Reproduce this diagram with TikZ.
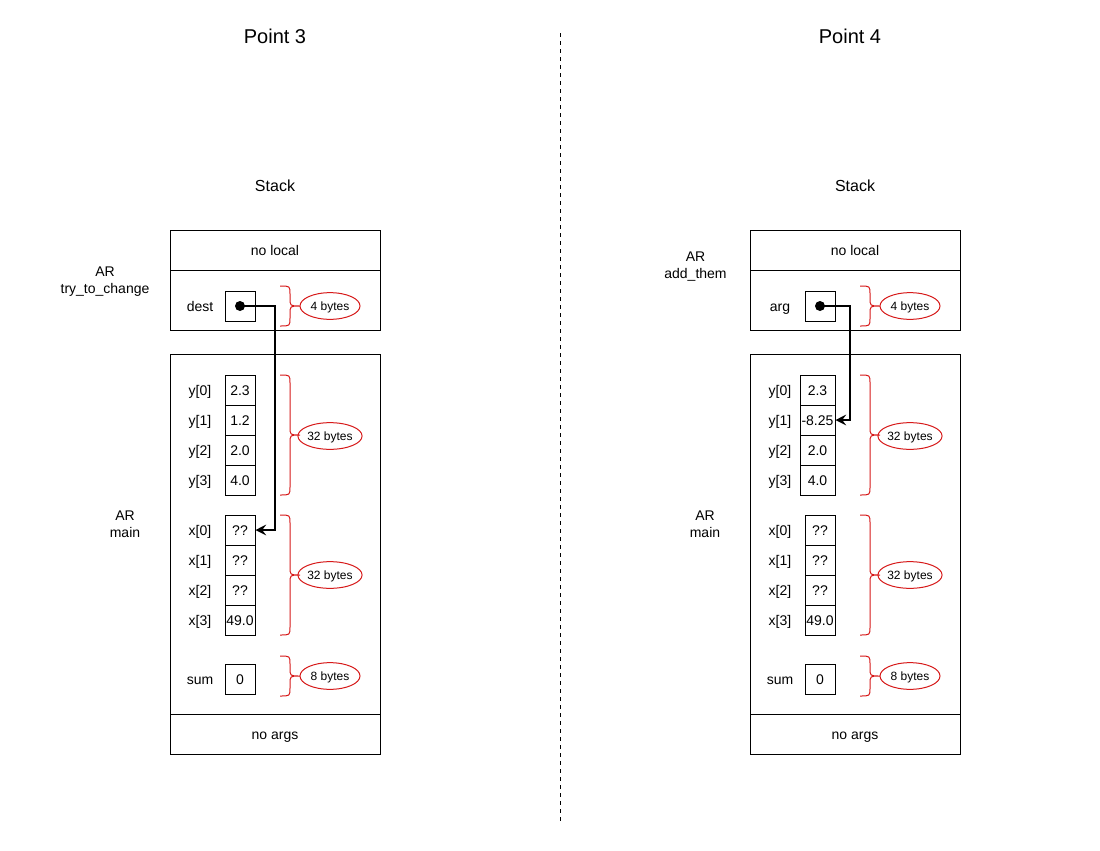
\documentclass[tikz,border=0pt]{standalone}
\usepackage{fontspec}
\setmainfont{Liberation Sans}
\usetikzlibrary{shapes.geometric,arrows.meta}
\definecolor{brred}{RGB}{215,25,25}
\newcommand\cbrace[3]{%
  \draw[bracestyle] (#1,#2) .. controls ({#1+10},#2) .. ({#1+10},{#2+8})
    -- ({#1+10},{(#2+#3)/2-8}) .. controls ({#1+10},{(#2+#3)/2}) .. ({#1+20},{(#2+#3)/2})
    .. controls ({#1+10},{(#2+#3)/2}) .. ({#1+10},{(#2+#3)/2+8})
    -- ({#1+10},{#3-8}) .. controls ({#1+10},#3) .. (#1,#3);}
\begin{document}
\begin{tikzpicture}[x=0.75pt,y=-0.75pt,
  lbl/.style={font=\fontsize{10.5}{12.6}\selectfont, inner sep=0pt, align=center, text height=8.8pt, text depth=0pt},
  cell/.style={draw, line width=0.75pt, minimum width=22.5pt, minimum height=22.5pt, inner sep=0pt, font=\fontsize{10.5}{12.6}\selectfont, text height=8.8pt, text depth=0pt},
  widecell/.style={cell, minimum width=26.25pt},
  frame/.style={draw, line width=0.75pt},
  bracestyle/.style={draw=brred, line width=0.75pt},
  bytes/.style={ellipse, draw=brred, line width=0.75pt, minimum width=45pt, minimum height=20pt, inner sep=0pt, font=\fontsize{9}{10.8}\selectfont, text height=7.4pt, text depth=0pt},
  ptr/.style={line width=1.5pt, -{Stealth[length=8pt,width=8pt,inset=3pt]}},
  dotnode/.style={circle, fill=black, minimum size=7.5pt, inner sep=0pt},
  title/.style={font=\fontsize{15}{18}\selectfont, inner sep=0pt},
  stack/.style={font=\fontsize{12}{14.4}\selectfont, inner sep=0pt}]
\useasboundingbox (0,0) rectangle (1100,850);
\fill[white] (0,0) rectangle (1100,850);

% divider
\coordinate (dtop) at (560,33);
\coordinate (dbot) at (560,822);
\draw[dashed, line width=0.6pt] (dtop) -- (dbot);

% ================= LEFT =================
\node[title] (p3) at (275,36) {Point 3};
\node[stack] (stL) at (275,186) {Stack};
\node[frame, minimum width=157.5pt, minimum height=75pt, inner sep=0pt] (topL) at (275,280) {};
\draw[line width=0.75pt] (170,270) -- (380,270);
\node[lbl] (nlL) at (275,250) {no local};
\node[lbl, text height=, text depth=] (arTL) at (105,281.5) {AR\\try\_to\_change};
\node[lbl] (destL) at (200,306) {dest};
\node[cell] (dcL) at (240,306) {};
\node[dotnode] (dotL) at (240,306) {};
\cbrace{280}{286}{326}
\node[bytes] (b4L) at (330,306) {4 bytes};

\node[frame, minimum width=157.5pt, minimum height=300pt, inner sep=0pt] (mainL) at (275,554) {};
\draw[line width=0.75pt] (170,714) -- (380,714);
\node[lbl] (naL) at (275,734) {no args};
\node[lbl, text height=, text depth=] (arML) at (125,524.5) {AR\\main};

\node[lbl] (ly0) at (200,390) {y[0]};
\node[lbl] (ly1) at (200,420) {y[1]};
\node[lbl] (ly2) at (200,450) {y[2]};
\node[lbl] (ly3) at (200,480) {y[3]};
\node[cell] (cy0L) at (240,390) {2.3};
\node[cell] (cy1L) at (240,420) {1.2};
\node[cell] (cy2L) at (240,450) {2.0};
\node[cell] (cy3L) at (240,480) {4.0};
\cbrace{280}{375}{495}
\node[bytes] (b32aL) at (330,436) {32 bytes};

\node[lbl] (lx0) at (200,530) {x[0]};
\node[lbl] (lx1) at (200,560) {x[1]};
\node[lbl] (lx2) at (200,590) {x[2]};
\node[lbl] (lx3) at (200,620) {x[3]};
\node[cell] (cx0L) at (240,530) {??};
\node[cell] (cx1L) at (240,560) {??};
\node[cell] (cx2L) at (240,590) {??};
\node[cell] (cx3L) at (240,620) {49.0};
\cbrace{280}{515}{635}
\node[bytes] (b32bL) at (330,575) {32 bytes};

\node[lbl] (lsum) at (200,679) {sum};
\node[cell] (csL) at (240,679) {0};
\cbrace{280}{656}{696}
\node[bytes] (b8L) at (330,676) {8 bytes};

\coordinate (bendL) at (275,306);
\draw[ptr] (dotL.center) -- (bendL) |- (cx0L.east);

% ================= RIGHT =================
\node[title] (p4) at (850,36) {Point 4};
\node[stack] (stR) at (855,186) {Stack};
\node[frame, minimum width=157.5pt, minimum height=75pt, inner sep=0pt] (topR) at (855,280) {};
\draw[line width=0.75pt] (750,270) -- (960,270);
\node[lbl] (nlR) at (855,250) {no local};
\node[lbl, text height=, text depth=] (arTR) at (695.5,266.5) {AR\\add\_them};
\node[lbl] (argR) at (780,306) {arg};
\node[cell] (dcR) at (820,306) {};
\node[dotnode] (dotR) at (820,306) {};
\cbrace{860}{286}{326}
\node[bytes] (b4R) at (910,306) {4 bytes};

\node[frame, minimum width=157.5pt, minimum height=300pt, inner sep=0pt] (mainR) at (855,554) {};
\draw[line width=0.75pt] (750,714) -- (960,714);
\node[lbl] (naR) at (855,734) {no args};
\node[lbl, text height=, text depth=] (arMR) at (705,524.5) {AR\\main};

\node[lbl] (ry0) at (780,390) {y[0]};
\node[lbl] (ry1) at (780,420) {y[1]};
\node[lbl] (ry2) at (780,450) {y[2]};
\node[lbl] (ry3) at (780,480) {y[3]};
\node[widecell] (cy0R) at (817.5,390) {2.3};
\node[widecell] (cy1R) at (817.5,420) {-8.25};
\node[widecell] (cy2R) at (817.5,450) {2.0};
\node[widecell] (cy3R) at (817.5,480) {4.0};
\cbrace{860}{375}{495}
\node[bytes] (b32aR) at (910,436) {32 bytes};

\node[lbl] (rx0) at (780,530) {x[0]};
\node[lbl] (rx1) at (780,560) {x[1]};
\node[lbl] (rx2) at (780,590) {x[2]};
\node[lbl] (rx3) at (780,620) {x[3]};
\node[cell] (cx0R) at (820,530) {??};
\node[cell] (cx1R) at (820,560) {??};
\node[cell] (cx2R) at (820,590) {??};
\node[cell] (cx3R) at (820,620) {49.0};
\cbrace{860}{515}{635}
\node[bytes] (b32bR) at (910,575) {32 bytes};

\node[lbl] (rsum) at (780,679) {sum};
\node[cell] (csR) at (820,679) {0};
\cbrace{860}{656}{696}
\node[bytes] (b8R) at (910,676) {8 bytes};

\coordinate (bendR) at (850,306);
\draw[ptr] (dotR.center) -- (bendR) |- (cy1R.east);
\end{tikzpicture}
\end{document}
